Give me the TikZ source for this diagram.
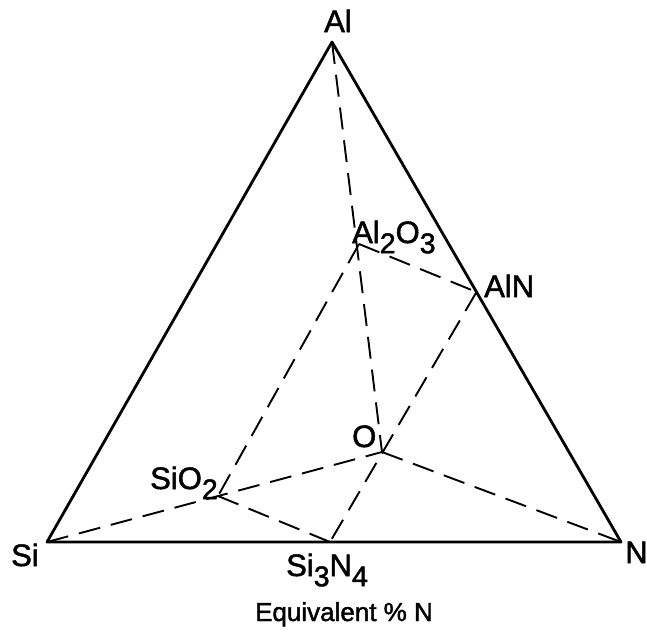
\documentclass[tikz,border=0pt]{standalone}
\usepackage{fontspec}
\usepackage{graphicx}
\usetikzlibrary{calc}
\setmainfont{Liberation Sans}
\newfontfamily\letterfont[FakeBold=1.6]{Liberation Sans}
\newcommand{\lowsub}[1]{\raisebox{-0.33em}{\scalebox{0.92}{#1}}}
\begin{document}
\begin{tikzpicture}[x=1pt,y=-1pt,
  edge/.style={line width=2.8pt, line join=round},
  tie/.style={line width=1.9pt, dashed, dash pattern=on 22pt off 11pt},
  lab/.style={inner sep=0pt, anchor=base west, font=\letterfont\fontsize{31}{31}\selectfont},
  axis/.style={inner sep=0pt, anchor=base, font=\letterfont\fontsize{26}{26}\selectfont}]
\useasboundingbox (0,0) rectangle (647,633);
\fill[white] (0,0) rectangle (647,633);
% vertices
\coordinate (Al) at (332,42);
\coordinate (Si) at (47,542);
\coordinate (N) at (621,542);
\coordinate (AlN) at ($(Al)!0.5!(N)$);
\coordinate (Si3N4) at (330,542);
\coordinate (O) at (382,452);
\coordinate (SiO2) at (218,496);
\coordinate (Al2O3) at (359,244);
% dashed tie lines
\draw[tie] (Al) -- (O);
\draw[tie] (Al2O3) -- (AlN);
\draw[tie] (Al2O3) -- (SiO2);
\draw[tie] (AlN) -- (Si3N4);
\draw[tie] (Si) -- (O);
\draw[tie] (O) -- (N);
\draw[tie] (SiO2) -- (Si3N4);
% outer triangle
\draw[edge] (Si) -- (Al) -- (N) -- cycle;
% labels
\node[lab] (lAl) at (324,32) {Al};
\node[lab] (lAl2O3) at (352,243) {Al\lowsub{2}O\lowsub{3}};
\node[lab] (lAlN) at (484,297) {AlN};
\node[lab] (lO) at (352,447) {O};
\node[lab] (lSiO2) at (150,489) {SiO\lowsub{2}};
\node[lab] (lSi) at (11,566) {Si};
\node[lab] (lN) at (625,563) {N};
\node[lab] (lSi3N4) at (286,576) {Si\lowsub{3}N\lowsub{4}};
\node[axis] (lEq) at (344,621) {Equivalent \% N};
\end{tikzpicture}
\end{document}
